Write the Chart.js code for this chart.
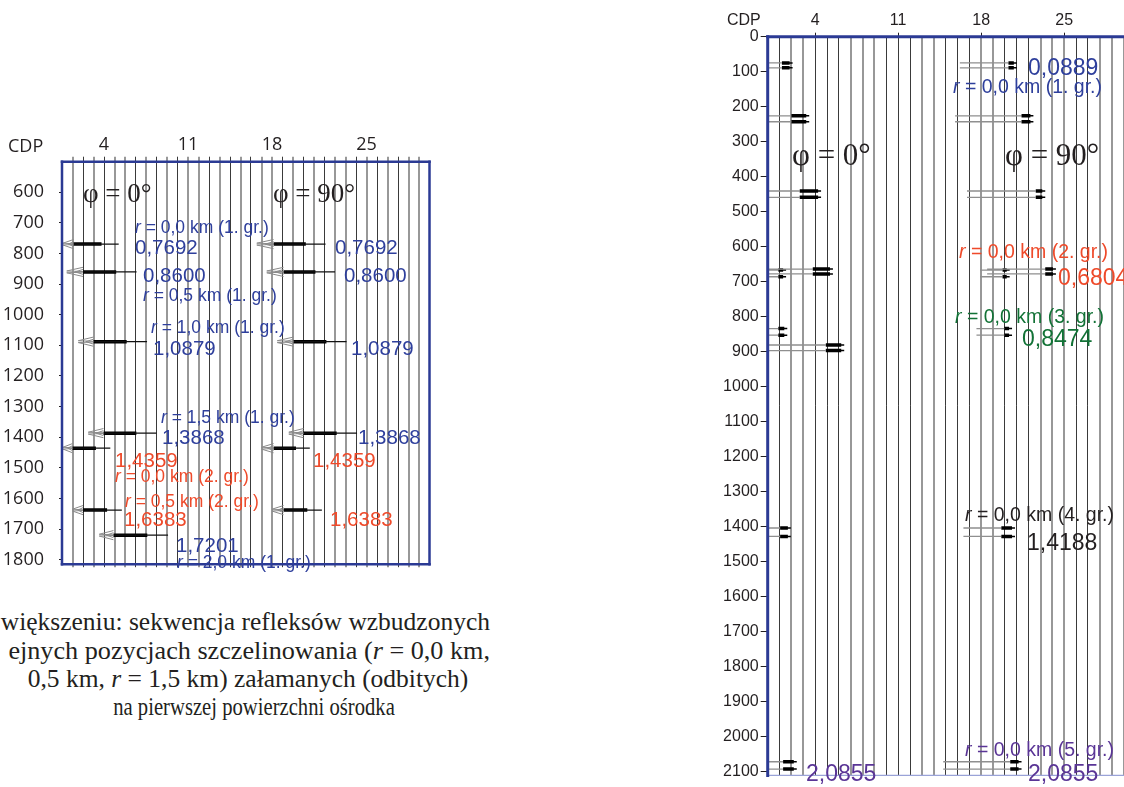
<!DOCTYPE html>
<html><head><meta charset="utf-8">
<script src="https://cdn.jsdelivr.net/npm/chart.js@4.4.1/dist/chart.umd.min.js"></script>
<style>
html,body{margin:0;padding:0;width:1124px;height:787px;overflow:hidden;background:#fff;}
body{position:relative;}
.box{position:absolute;}
.t{position:absolute;white-space:nowrap;font-family:"Liberation Sans",Arial,sans-serif;line-height:1;transform:translateY(-50%);}
.t i{font-style:italic;}
.serif{font-family:"Liberation Serif","Times New Roman",serif;color:#231f20;}
.cap{position:absolute;white-space:nowrap;font-family:"Liberation Serif","Times New Roman",serif;font-size:25.5px;line-height:1;color:#231f20;transform:translateY(-50%);}
.b{color:#2e3f9c}.r{color:#ef4a2a}.g{color:#127236}.k{color:#231f20}.p{color:#5a3596}
</style></head><body>
<div class="box" style="left:0;top:100px;width:440px;height:490px"><canvas id="cL"></canvas></div>
<div class="box" style="left:700px;top:0;width:440px;height:787px"><canvas id="cR"></canvas></div>

<!-- left panel texts -->
<div class="t" style="left:8px;top:145px;font-family:'Open Sans';font-size:18px;color:#231f20">CDP</div>
<div class="t serif" style="left:83px;top:193px;font-size:27px">φ = 0°</div>
<div class="t serif" style="left:273px;top:193px;font-size:27px">φ = 90°</div>
<div class="t b" style="left:135px;top:228px;font-size:17.5px"><i>r</i> = 0,0 km (1. gr.)</div>
<div class="t b" style="left:135px;top:247px;font-size:20.5px">0,7692</div>
<div class="t b" style="left:143px;top:275px;font-size:20.5px">0,8600</div>
<div class="t b" style="left:143px;top:296px;font-size:17.5px"><i>r</i> = 0,5 km (1. gr.)</div>
<div class="t b" style="left:151px;top:328px;font-size:17.5px"><i>r</i> = 1,0 km (1. gr.)</div>
<div class="t b" style="left:153px;top:348px;font-size:20.5px">1,0879</div>
<div class="t b" style="left:161px;top:418px;font-size:17.5px"><i>r</i> = 1,5 km (1. gr.)</div>
<div class="t b" style="left:162px;top:437px;font-size:20.5px">1,3868</div>
<div class="t r" style="left:115px;top:460px;font-size:20.5px">1,4359</div>
<div class="t r" style="left:115px;top:477px;font-size:17.5px"><i>r</i> = 0,0 km (2. gr.)</div>
<div class="t r" style="left:125px;top:502px;font-size:17.5px"><i>r</i> = 0,5 km (2. gr.)</div>
<div class="t r" style="left:124px;top:519px;font-size:20.5px">1,6383</div>
<div class="t b" style="left:176px;top:545px;font-size:20.5px">1,7201</div>
<div class="t b" style="left:177px;top:563px;font-size:17.5px"><i>r</i> = 2,0 km (1. gr.)</div>
<div class="t b" style="left:335px;top:247px;font-size:20.5px">0,7692</div>
<div class="t b" style="left:344px;top:275px;font-size:20.5px">0,8600</div>
<div class="t b" style="left:351px;top:348px;font-size:20.5px">1,0879</div>
<div class="t b" style="left:358px;top:437px;font-size:20.5px">1,3868</div>
<div class="t r" style="left:313px;top:460px;font-size:20.5px">1,4359</div>
<div class="t r" style="left:330px;top:519px;font-size:20.5px">1,6383</div>

<!-- caption -->
<div class="cap" style="right:634px;top:622px">większeniu: sekwencja refleksów wzbudzonych</div>
<div class="cap" style="right:634px;top:651px;font-size:26.2px">ejnych pozycjach szczelinowania (<i>r</i> = 0,0 km,</div>
<div class="cap" style="left:248px;top:679px;transform:translate(-50%,-50%)">0,5 km, <i>r</i> = 1,5 km) załamanych (odbitych)</div>
<div class="cap" style="left:254px;top:707px;transform:translate(-50%,-50%) scaleX(0.81)">na pierwszej powierzchni ośrodka</div>

<!-- right panel texts -->
<div class="t" style="left:727px;top:20px;font-size:16px;color:#231f20">CDP</div>
<div class="t b" style="left:1028px;top:67px;font-size:23px">0,0889</div>
<div class="t b" style="left:953px;top:87px;font-size:19.5px"><i>r</i> = 0,0 km (1. gr.)</div>
<div class="t serif" style="left:792px;top:154px;font-size:31px">φ = 0°</div>
<div class="t serif" style="left:1005px;top:154px;font-size:31px">φ = 90°</div>
<div class="t r" style="left:959px;top:252px;font-size:19.5px"><i>r</i> = 0,0 km (2. gr.)</div>
<div class="t r" style="left:1058px;top:277px;font-size:23px">0,6804</div>
<div class="t g" style="left:955px;top:317px;font-size:19.5px"><i>r</i> = 0,0 km (3. gr.)</div>
<div class="t g" style="left:1022px;top:338px;font-size:23px">0,8474</div>
<div class="t k" style="left:965px;top:515px;font-size:19.5px"><i>r</i> = 0,0 km (4. gr.)</div>
<div class="t k" style="left:1027px;top:542px;font-size:23px">1,4188</div>
<div class="t p" style="left:965px;top:750px;font-size:19.5px"><i>r</i> = 0,0 km (5. gr.)</div>
<div class="t p" style="left:806px;top:773px;font-size:23px">2,0855</div>
<div class="t p" style="left:1028px;top:773px;font-size:23px">2,0855</div>

<script>
// ---------- DATA: left panel (trace index units, time in ms) ----------
const traceCountL = 35;
const cdpTickPosL = [4, 12, 20, 29];
const cdpTickLabelsL = ['4', '11', '18', '25'];
const timeTicksL = [600, 700, 800, 900, 1000, 1100, 1200, 1300, 1400, 1500, 1600, 1700, 1800];
const timeMinL = 500, timeMaxL = 1815;
// phi = 0
const timesL0    = [769.2, 860.0, 1087.9, 1386.8, 1435.9, 1638.3, 1720.1];
const negTipL0   = [0.1, 0.45, 1.55, 2.5, 0.1, 1.0, 3.55];
const posStartL0 = [1.1, 2.0, 3.0, 3.95, 1.0, 2.0, 4.9];
const posTipL0   = [5.4, 7.1, 8.1, 9.0, 4.6, 5.7, 10.1];
// phi = 90
const timesL90    = [769.2, 860.0, 1087.9, 1386.8, 1435.9, 1638.3];
const negTipL90   = [18.55, 19.5, 20.5, 21.6, 19.0, 20.0];
const posStartL90 = [20.15, 21.1, 22.05, 23.0, 20.15, 21.1];
const posTipL90   = [25.1, 26.0, 27.1, 28.1, 23.6, 24.75];

// ---------- DATA: right panel (CDP units, time in ms) ----------
const cdpMaxR = 31;
const cdpTicksR = [4, 11, 18, 25];
const timeTicksR = [0, 100, 200, 300, 400, 500, 600, 700, 800, 900, 1000, 1100, 1200, 1300, 1400, 1500, 1600, 1700, 1800, 1900, 2000, 2100];
const timeMaxR = 2111;
// phi = 0
const upperR0      = [75, 226, 441, 664, 667, 834, 881, 1404, 2072];
const lowerR0      = [89, 243, 459, 678, 686, 853, 897, 1428, 2093];
const shaftStartR0 = [0, 0, 0, 0, 0, 0, 0, 0, 0];
const headStartR0  = [1.2, 2.0, 2.7, 3.8, 0.9, 0.9, 4.9, 1.05, 1.3];
const headTipR0    = [2.1, 3.5, 4.5, 5.5, 1.55, 1.65, 6.45, 1.95, 2.45];
// phi = 90
const upperR90      = [75, 226, 441, 667, 664, 834, 1404, 2072];
const lowerR90      = [89, 243, 459, 686, 678, 853, 1428, 2093];
const shaftStartR90 = [16.2, 15.8, 16.8, 17.9, 18.5, 17.6, 16.5, 14.8];
const headStartR90  = [20.3, 21.4, 22.6, 19.8, 23.4, 19.95, 19.7, 20.45];
const headTipR90    = [21.0, 22.4, 23.4, 20.4, 24.3, 20.6, 20.85, 21.4];

// ---------- styles ----------
const BLUE = '#2b3a94';
const TRACE_K = '#3a3a3a', TRACE_G = '#989898';
const patternR = 'kggkkkgggkkkggkkkggkkkgggkkggg';
const patternL = 'gkgkggkgkgkggkgkgkggkgkgkggkgkgkgg';

function joinSegs(list) {
  const out = [];
  list.forEach(pts => { pts.forEach(p => out.push(p)); out.push({x: pts[pts.length - 1].x, y: null}); });
  return out;
}

// left wavelet shapes
function leftShapes(times, neg, ps, tip) {
  const grey = [], thick = [], thin = [];
  times.forEach((t, i) => {
    const bs = ps[i], gt = neg[i];
    grey.push([{x: bs, y: t - 15}, {x: gt, y: t - 3}, {x: bs, y: t - 1}]);
    grey.push([{x: bs, y: t + 15}, {x: gt, y: t + 3}, {x: bs, y: t + 1}]);
    grey.push([{x: bs, y: t - 8}, {x: (gt + bs) / 2, y: t}, {x: bs, y: t + 8}]);
    thick.push([{x: bs, y: t}, {x: bs + 0.62 * (tip[i] - bs), y: t}]);
    thin.push([{x: bs, y: t}, {x: tip[i], y: t}]);
  });
  return {grey, thick, thin};
}
const sL0 = leftShapes(timesL0, negTipL0, posStartL0, posTipL0);
const sL90 = leftShapes(timesL90, negTipL90, posStartL90, posTipL90);

function rightShapes(up, lo, ss, hs, ht) {
  const shaft = [], head = [], tipl = [];
  up.forEach((u, i) => {
    [u, lo[i]].forEach(t => {
      shaft.push([{x: ss[i], y: t}, {x: hs[i], y: t}]);
      head.push([{x: hs[i], y: t}, {x: ht[i] - 0.25, y: t}]);
      tipl.push([{x: hs[i], y: t}, {x: ht[i], y: t}]);
    });
  });
  return {shaft, head, tipl};
}
const sR0 = rightShapes(upperR0, lowerR0, shaftStartR0, headStartR0, headTipR0);
const sR90 = rightShapes(upperR90, lowerR90, shaftStartR90, headStartR90, headTipR90);

const lineDS = (data, color, w) => ({type: 'line', data, borderColor: color, borderWidth: w, pointRadius: 0, tension: 0, spanGaps: false, fill: false, borderCapStyle: 'butt'});

const borderPlugin = (opts) => ({
  id: 'panelBorder',
  afterDatasetsDraw(chart) {
    const a = chart.chartArea, c = chart.ctx;
    c.save();
    c.lineCap = 'square';
    opts.forEach(o => {
      c.strokeStyle = o.color; c.lineWidth = o.w;
      c.beginPath();
      const pts = {left: [[a.left, a.top], [a.left, a.bottom]], right: [[a.right, a.top], [a.right, a.bottom]],
                   top: [[a.left, a.top], [a.right, a.top]], bottom: [[a.left, a.bottom], [a.right, a.bottom]]}[o.side];
      c.moveTo(pts[0][0], pts[0][1]); c.lineTo(pts[1][0], pts[1][1]); c.stroke();
    });
    c.restore();
  }
});

function traceColor(pattern, max) {
  return ctx => {
    const v = ctx.tick ? ctx.tick.value : 0;
    if (v <= 0 || v >= max) return 'rgba(0,0,0,0)';
    return pattern[(v - 1) % pattern.length] === 'k' ? TRACE_K : TRACE_G;
  };
}
function traceWidth(pattern) {
  return ctx => {
    const v = ctx.tick ? ctx.tick.value : 0;
    return pattern[(Math.max(v, 1) - 1) % pattern.length] === 'k' ? 1 : 2;
  };
}
const plain = v => String(v);

// ---------- left chart ----------
new Chart(document.getElementById('cL'), {
  type: 'line',
  data: {datasets: [
    lineDS(joinSegs([...sL0.grey, ...sL90.grey]), '#8a8a8a', 1),
    lineDS(joinSegs([...sL0.thin, ...sL90.thin]), '#111', 1.4),
    lineDS(joinSegs([...sL0.thick, ...sL90.thick]), '#000', 3.5),
  ]},
  options: {
    responsive: true, maintainAspectRatio: false, animation: false,
    layout: {padding: {left: 0, right: 10.5, top: 0, bottom: 0}},
    plugins: {legend: {display: false}, tooltip: {enabled: false}},
    scales: {
      x: {type: 'linear', position: 'top', min: 0, max: traceCountL,
        afterFit: s => { s.height = 61.7; },
        afterBuildTicks: s => { s.ticks = Array.from({length: traceCountL + 1}, (_, i) => ({value: i})); },
        ticks: {autoSkip: false, maxRotation: 0, padding: 1, color: '#231f20', font: {family: 'Open Sans', size: 18},
          callback: v => { const k = cdpTickPosL.indexOf(v); return k >= 0 ? cdpTickLabelsL[k] : ''; }},
        grid: {drawOnChartArea: true, drawTicks: true, tickLength: 5, color: traceColor(patternL, traceCountL), lineWidth: traceWidth(patternL)},
        border: {display: false}},
      x2: {type: 'linear', position: 'bottom', min: 0, max: traceCountL,
        afterFit: s => { s.height = 14.3; },
        afterBuildTicks: s => { s.ticks = Array.from({length: traceCountL + 1}, (_, i) => ({value: i})); },
        ticks: {display: false},
        grid: {drawOnChartArea: false, drawTicks: true, tickLength: 3, color: traceColor(patternL, traceCountL), lineWidth: traceWidth(patternL)},
        border: {display: false}},
      y: {type: 'linear', position: 'left', reverse: true, min: timeMinL, max: timeMaxL,
        afterFit: s => { s.width = 62; },
        afterBuildTicks: s => { s.ticks = timeTicksL.map(v => ({value: v})); },
        ticks: {padding: 15, color: '#231f20', font: {family: 'Open Sans', size: 18}, callback: plain},
        grid: {drawOnChartArea: false, drawTicks: true, tickLength: 3, color: '#231f20'},
        border: {display: false}}
    }
  },
  plugins: [borderPlugin([{side: 'left', color: BLUE, w: 2.5}, {side: 'right', color: BLUE, w: 2.5}, {side: 'top', color: BLUE, w: 2.5}, {side: 'bottom', color: BLUE, w: 2.5}])]
});

// ---------- right chart ----------
new Chart(document.getElementById('cR'), {
  type: 'line',
  data: {datasets: [
    lineDS(joinSegs([...sR0.shaft, ...sR90.shaft]), '#8f8f8f', 1.3),
    lineDS(joinSegs([...sR0.tipl, ...sR90.tipl]), '#000', 1.5),
    lineDS(joinSegs([...sR0.head, ...sR90.head]), '#000', 3.5),
  ]},
  options: {
    responsive: true, maintainAspectRatio: false, animation: false,
    layout: {padding: {left: 0, right: 4.6, top: 0, bottom: 0}},
    plugins: {legend: {display: false}, tooltip: {enabled: false}},
    scales: {
      x: {type: 'linear', position: 'top', min: 0, max: cdpMaxR,
        afterFit: s => { s.height = 36.7; },
        afterBuildTicks: s => { s.ticks = cdpTicksR.map(v => ({value: v})); },
        ticks: {autoSkip: false, maxRotation: 0, padding: 3, color: '#231f20', font: {family: 'Liberation Sans', size: 16}, callback: plain},
        grid: {drawOnChartArea: false, drawTicks: true, tickLength: 4, color: '#231f20'},
        border: {display: false}},
      xg: {type: 'linear', position: 'bottom', min: 0, max: cdpMaxR,
        afterFit: s => { s.height = 3.7; },
        afterBuildTicks: s => { s.ticks = Array.from({length: cdpMaxR + 1}, (_, i) => ({value: i})); },
        ticks: {display: false},
        grid: {drawOnChartArea: true, drawTicks: false, color: traceColor(patternR, cdpMaxR), lineWidth: traceWidth(patternR)},
        border: {display: false}},
      y: {type: 'linear', position: 'left', reverse: true, min: 0, max: timeMaxR,
        afterFit: s => { s.width = 67.7; },
        afterBuildTicks: s => { s.ticks = timeTicksR.map(v => ({value: v})); },
        ticks: {padding: 2, color: '#231f20', font: {family: 'Liberation Sans', size: 16}, callback: plain},
        grid: {drawOnChartArea: false, drawTicks: true, tickLength: 7, color: '#231f20'},
        border: {display: false}}
    }
  },
  plugins: [borderPlugin([{side: 'bottom', color: '#9aa3d8', w: 1.2}, {side: 'left', color: BLUE, w: 3}, {side: 'top', color: BLUE, w: 3}, {side: 'right', color: BLUE, w: 3}])]
});
</script>
</body></html>
